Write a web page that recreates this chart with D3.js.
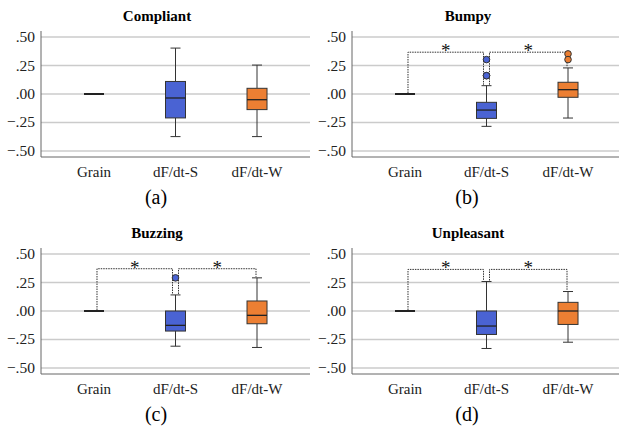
<!DOCTYPE html>
<html>
<head>
<meta charset="utf-8">
<script src="https://cdn.jsdelivr.net/npm/d3@7"></script>
<style>
  body { margin: 0; background: #fff; }
  svg text { font-family: "Liberation Serif", "DejaVu Serif", serif; }
</style>
</head>
<body>
<div id="chart"></div>
<script>
// data
const categories = ["Grain", "dF/dt-S", "dF/dt-W"];
const panelTitles = ["Compliant", "Bumpy", "Buzzing", "Unpleasant"];
const captions = ["(a)", "(b)", "(c)", "(d)"];
const yTicks = [0.5, 0.25, 0, -0.25, -0.5];

// [min, q1, median, q3, max] for each category
const compliantStats = [[0, 0, 0, 0, 0], [-0.374, -0.21, -0.035, 0.11, 0.403], [-0.374, -0.137, -0.05, 0.05, 0.254]];
const bumpyStats = [[0, 0, 0, 0, 0], [-0.284, -0.214, -0.141, -0.073, 0.073], [-0.211, -0.029, 0.038, 0.103, 0.229]];
const buzzingStats = [[0, 0, 0, 0, 0], [-0.309, -0.176, -0.126, 0, 0.141], [-0.32, -0.112, -0.038, 0.088, 0.291]];
const unpleasantStats = [[0, 0, 0, 0, 0], [-0.329, -0.206, -0.132, 0, 0.259], [-0.274, -0.118, 0, 0.076, 0.171]];

const compliantOutliers = [[], [], []];
const bumpyOutliers = [[], [0.302, 0.161, 0.161], [0.352, 0.302]];
const buzzingOutliers = [[], [0.291], []];
const unpleasantOutliers = [[], [], []];

// height of the significance brackets (null = none)
const bracketLevels = [null, 0.367, 0.371, 0.365];

const allStats = [compliantStats, bumpyStats, buzzingStats, unpleasantStats];
const allOutliers = [compliantOutliers, bumpyOutliers, buzzingOutliers, unpleasantOutliers];
const fills = ["#4a63d3", "#4a63d3", "#ec7f33"];

const width = 619, height = 429;
const origins = [[0, 0], [311, 0], [0, 217], [311, 217]];
const axisLeft = 41, plotTop = 31, plotW = 269, plotH = 126;
const serif = "Liberation Serif, DejaVu Serif, serif";

const svg = d3.select("#chart").append("svg")
    .attr("width", width)
    .attr("height", height)
    .style("display", "block");

const x = d3.scalePoint().domain(categories).range([0, plotW]).padding(0.65);
const y = d3.scaleLinear().domain([-0.553, 0.553]).range([plotH, 0]);
const fmt = d => d3.format(".2f")(d).replace("0.", ".");

panelTitles.forEach((title, i) => {
    const [ox, oy] = origins[i];
    const stats = allStats[i];
    const outliers = allOutliers[i];

    const panel = svg.append("g").attr("transform", `translate(${ox},${oy})`)
        .attr("font-family", serif);

    panel.append("text")
        .attr("x", 157).attr("y", 21)
        .attr("text-anchor", "middle")
        .attr("font-weight", "bold")
        .attr("font-size", 15)
        .text(title);

    panel.append("text")
        .attr("x", 156).attr("y", 204)
        .attr("text-anchor", "middle")
        .attr("font-size", 20)
        .text(captions[i]);

    const g = panel.append("g").attr("transform", `translate(${axisLeft},${plotTop})`);

    // grid lines
    g.selectAll(".grid").data(yTicks).enter().append("line")
        .attr("x1", 0).attr("x2", plotW)
        .attr("y1", d => y(d)).attr("y2", d => y(d))
        .attr("stroke", "#cbcbcb").attr("stroke-width", 1.5);

    // y tick labels
    g.selectAll(".ytl").data(yTicks).enter().append("text")
        .attr("x", -6).attr("y", d => y(d) + 5)
        .attr("text-anchor", "end")
        .attr("font-size", 15.5)
        .attr("fill", "#222")
        .text(fmt);

    // axis lines
    g.append("line").attr("x1", 0).attr("x2", 0).attr("y1", 0).attr("y2", plotH)
        .attr("stroke", "#666").attr("stroke-width", 1);
    g.append("line").attr("x1", 0).attr("x2", plotW).attr("y1", plotH).attr("y2", plotH)
        .attr("stroke", "#666").attr("stroke-width", 1);

    // x labels
    g.selectAll(".xtl").data(categories).enter().append("text")
        .attr("x", d => x(d)).attr("y", 146)
        .attr("text-anchor", "middle")
        .attr("font-size", 15)
        .attr("fill", "#222")
        .text(d => d);

    // significance brackets
    if (bracketLevels[i] !== null) {
        const by = y(bracketLevels[i]);
        const pairs = [
            [x(categories[0]) + 3, y(stats[0][4]) - 1, x(categories[1]) - 3, y(stats[1][4]) - 1],
            [x(categories[1]) + 3, y(stats[1][4]) - 1, x(categories[2]) - 1, y(stats[2][4]) - 1]
        ];
        pairs.forEach(([x1, y1, x2, y2]) => {
            g.append("path")
                .attr("d", `M${x1},${y1}V${by}H${x2}V${y2}`)
                .attr("fill", "none")
                .attr("stroke", "#333")
                .attr("stroke-width", 1)
                .attr("stroke-dasharray", "1.5,1");
            g.append("text")
                .attr("x", (x1 + x2) / 2).attr("y", by + 5)
                .attr("text-anchor", "middle")
                .attr("font-size", 19)
                .attr("fill", "#111")
                .text("*");
        });
    }

    // boxes
    const boxW = 20, capW = 10;
    categories.forEach((c, j) => {
        const [mn, q1, md, q3, mx] = stats[j];
        const cx = x(c);
        const stroke = "#333";
        g.append("line").attr("x1", cx).attr("x2", cx).attr("y1", y(mx)).attr("y2", y(q3))
            .attr("stroke", stroke).attr("stroke-width", 1);
        g.append("line").attr("x1", cx).attr("x2", cx).attr("y1", y(q1)).attr("y2", y(mn))
            .attr("stroke", stroke).attr("stroke-width", 1);
        if (mx !== mn) {
            [mn, mx].forEach(v => {
                g.append("line").attr("x1", cx - capW / 2).attr("x2", cx + capW / 2)
                    .attr("y1", y(v)).attr("y2", y(v))
                    .attr("stroke", stroke).attr("stroke-width", 1);
            });
        }
        if (q3 > q1) {
            g.append("rect")
                .attr("x", cx - boxW / 2).attr("y", y(q3))
                .attr("width", boxW).attr("height", y(q1) - y(q3))
                .attr("fill", fills[j])
                .attr("stroke", stroke).attr("stroke-width", 1);
        }
        g.append("line").attr("x1", cx - boxW / 2).attr("x2", cx + boxW / 2)
            .attr("y1", y(md)).attr("y2", y(md))
            .attr("stroke", "#222").attr("stroke-width", q3 > q1 ? 1.3 : 2);

        g.selectAll(null).data(outliers[j]).enter().append("circle")
            .attr("cx", cx).attr("cy", d => y(d))
            .attr("r", 3.3)
            .attr("fill", fills[j])
            .attr("stroke", "#333").attr("stroke-width", 1);
    });
});
</script>
</body>
</html>
